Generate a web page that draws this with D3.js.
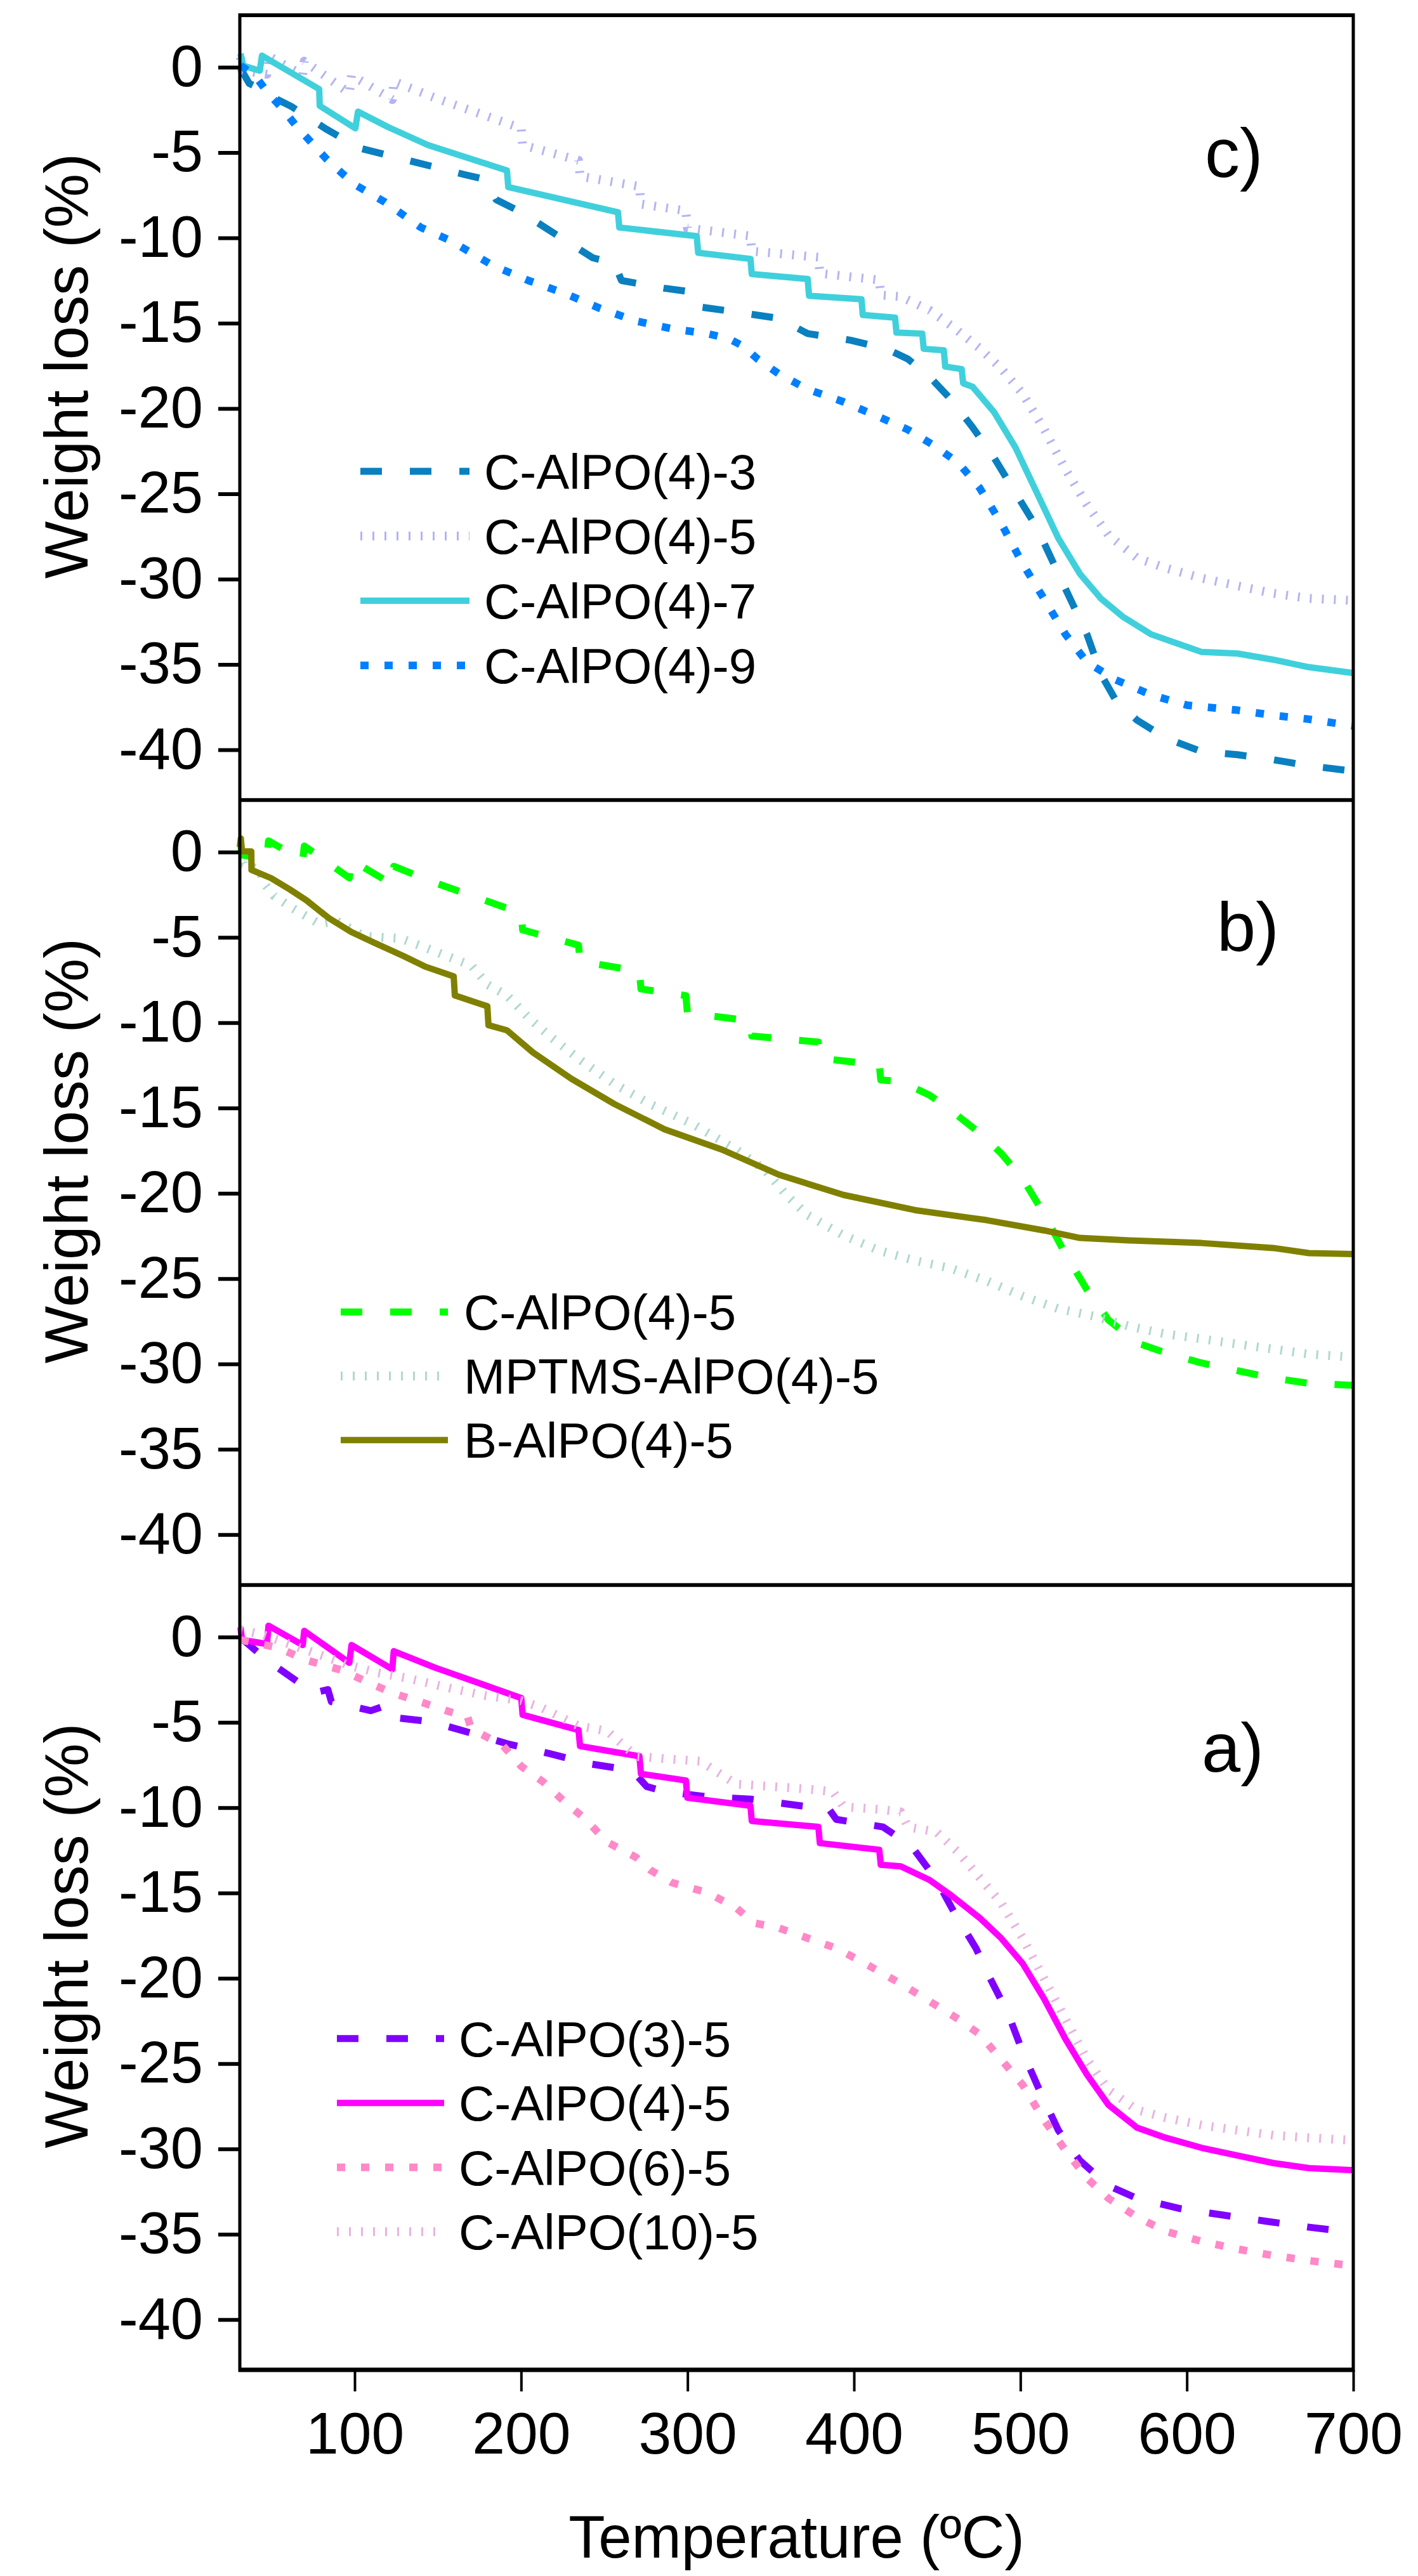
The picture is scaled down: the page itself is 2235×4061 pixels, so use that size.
<!DOCTYPE html>
<html>
<head>
<meta charset="utf-8">
<script src="https://cdn.jsdelivr.net/npm/d3@7"></script>
<style>
  body { margin: 0; background: #fff; }
  text { font-family: 'Liberation Sans', Arial, sans-serif; fill: #000; }
</style>
</head>
<body>
<div id="chart"></div>
<script>
// ---- data (temperature in ºC, weight loss in %) ----
const xTicks = [100, 200, 300, 400, 500, 600, 700]
const yTicks = [0, -5, -10, -15, -20, -25, -30, -35, -40]
const xDomain = [31, 700]
const yDomain = [-42.95, 3.05]

// C-AlPO(4)-5 appears in all three panels
const c_AlPO4_5 = [[31.4,0.57],[32.3,-0.17],[47.3,-0.41],[48.2,0.66],[68.8,-0.47],[69.7,0.36],[96.8,-1.51],[98.1,-0.47],
  [122.6,-1.89],[123.5,-0.83],[148.4,-1.8],[174.3,-2.69],[200.1,-3.58],[200.9,-4.56],[234.5,-5.45],[235.4,-6.39],
  [271.1,-6.99],[272,-8.02],[299,-8.41],[299.9,-9.42],[337.8,-9.89],[338.6,-10.78],[378.6,-11.13],[379.5,-12.08],
  [415.2,-12.47],[416.1,-13.35],[428.1,-13.44],[445.4,-14.24],[458.2,-15.13],[475.5,-16.46],[488.4,-17.65],
  [501.3,-19.13],[514.2,-21.2],[527.1,-23.57],[540,-25.65],[552.9,-27.42],[570.1,-28.76],[587.3,-29.35],
  [608.9,-29.94],[630.4,-30.39],[651.9,-30.83],[673.4,-31.13],[700,-31.25]]

// panel c)
const c_AlPO4_3 = [[31.4,-0.06],[36.6,-0.95],[41.6,-1.18],[49.5,-1.69],[62,-2.3],[82.5,-3.6],[102.7,-4.73],
  [135.5,-5.54],[165.6,-6.28],[178.6,-6.58],[185,-7.76],[200.1,-8.5],[221.6,-9.84],[243.1,-11.17],[256,-11.47],
  [260.3,-12.5],[286.1,-12.95],[303.4,-13.18],[306.8,-14.04],[329.2,-14.34],[355,-14.72],[372.2,-15.61],
  [398,-16],[419.5,-16.5],[432.4,-17.1],[445.4,-18.13],[458.2,-19.46],[471.2,-21.09],[484.1,-22.87],
  [497,-24.94],[510.1,-27.02],[522.8,-29.68],[531.4,-31.46],[540,-33.24],[548.6,-35.61],[557.2,-37.09],
  [570.1,-38.27],[587.3,-39.31],[608.9,-40.11],[630.4,-40.29],[651.9,-40.58],[673.4,-40.94],[700,-41.25]]
const c_AlPO4_7 = [[31.4,0.8],[33.1,0.09],[43,-0.2],[44.3,0.68],[78.7,-1.28],[79,-2.26],[100.4,-3.58],[102,-2.6],
  [120,-3.5],[144.1,-4.56],[191.5,-6.05],[192.3,-7.02],[258.2,-8.5],[259,-9.39],[305.5,-9.9],[306.4,-10.87],
  [337.8,-11.23],[338.6,-12.12],[372.2,-12.41],[373,-13.39],[404.5,-13.6],[405.3,-14.52],[424.7,-14.67],
  [425.5,-15.55],[441,-15.61],[441.9,-16.5],[454,-16.59],[454.8,-17.54],[464.7,-17.69],[465.6,-18.52],
  [471.2,-18.72],[484.1,-20.2],[497,-22.28],[509.9,-24.94],[522.8,-27.61],[535.7,-29.68],[548.6,-31.16],
  [561.5,-32.2],[578.7,-33.24],[608.9,-34.27],[630.4,-34.36],[651.9,-34.72],[673.4,-35.16],[700,-35.5]]
const c_AlPO4_9 = [[31.4,0.1],[40,-0.47],[48,-1.53],[57,-2.46],[65,-3.46],[73.7,-4.38],[83,-5.37],[92.6,-6.23],
  [101,-6.93],[118.3,-7.91],[139.8,-9.39],[157,-10.13],[182.9,-11.61],[204.4,-12.5],[225.9,-13.24],
  [247.4,-14.13],[268.9,-14.87],[290.4,-15.32],[311.9,-15.61],[324.9,-15.91],[333.5,-16.35],[342.1,-17.1],
  [355,-17.98],[372.2,-18.87],[393.7,-19.61],[415.2,-20.5],[432.4,-21.24],[447.5,-22.13],[462.6,-23.17],
  [475.5,-24.65],[488.4,-26.72],[501.3,-29.09],[514.2,-31.16],[527.1,-33.24],[540,-34.87],[557.2,-35.9],
  [578.7,-36.79],[600.2,-37.39],[630.4,-37.68],[651.9,-37.98],[673.4,-38.21],[700,-38.6]]

// panel b)
const mptms_AlPO4_5 = [[31.4,0.1],[33,-0.67],[42.8,-1.04],[45.5,-1.82],[51.6,-2.57],[61.1,-3.19],[78.6,-4.2],
  [89.3,-4.05],[105.7,-4.94],[127.5,-5.05],[140.8,-5.53],[154.5,-6.06],[170.2,-6.65],[179.7,-7.76],
  [191.5,-8.4],[205.2,-9.77],[216.6,-10.74],[236.1,-12.22],[256,-13.58],[277.5,-14.76],[303.4,-15.95],
  [329.2,-17.43],[346.4,-18.61],[359.3,-20.09],[372.2,-21.28],[393.7,-22.46],[415.2,-23.35],[436.7,-23.94],
  [458.2,-24.39],[479.8,-25.13],[501.3,-26.02],[522.8,-26.76],[544.3,-27.2],[565.8,-27.8],[587.3,-28.24],
  [608.9,-28.53],[630.4,-28.83],[651.9,-29.13],[673.4,-29.42],[700,-29.6]]
const b_AlPO4_5 = [[31,0.3],[31.6,0.8],[32.3,0.05],[37.9,0.04],[38,-1.04],[49.7,-1.52],[61.1,-2.19],[71,-2.82],
  [84.4,-3.86],[98,-4.68],[111.8,-5.31],[129.4,-6.09],[142.7,-6.72],[159.5,-7.28],[160.2,-8.4],[179.7,-9.03],
  [180.4,-10.14],[191.5,-10.44],[207.1,-11.74],[230.2,-13.28],[256,-14.76],[286.1,-16.24],[320.6,-17.43],
  [355,-18.91],[393.7,-20.09],[436.7,-20.98],[479.8,-21.57],[514.2,-22.17],[535.7,-22.61],[565.8,-22.76],
  [608.9,-22.91],[651.9,-23.2],[673.4,-23.5],[700,-23.56]]

// panel a)
const c_AlPO3_5 = [[31.4,-0.03],[47.3,-1.36],[75.3,-3.28],[83.9,-3.08],[86,-3.79],[109.7,-4.32],[118.3,-4.03],
  [120.5,-4.68],[146.3,-4.97],[167.8,-5.57],[191.5,-6.25],[217.3,-6.84],[241,-7.43],[266.8,-7.82],
  [275.4,-8.76],[286.1,-9.06],[312,-9.36],[337.8,-9.5],[367.9,-9.89],[385.1,-10.1],[389.4,-10.69],
  [417.4,-11.13],[434.6,-12.26],[449.6,-14.24],[460.4,-16.17],[473.3,-18.24],[481.9,-20.02],[492.7,-22.09],
  [501.3,-24.31],[512,-26.68],[522.8,-28.91],[535.7,-30.68],[552.9,-32.16],[570.1,-32.9],[596,-33.5],
  [621.8,-33.88],[647.6,-34.24],[673.4,-34.59],[700,-34.9]]
const c_AlPO6_5 = [[31.4,-0.17],[53.8,-0.62],[71,-1.36],[92.5,-1.95],[105.4,-2.54],[122.6,-3.28],[142,-3.88],
  [157,-4.38],[167.8,-4.68],[170,-5.36],[189.3,-6.39],[200.1,-7.58],[213,-8.47],[226,-9.65],[238.8,-10.69],
  [251.7,-12.02],[269,-12.91],[277.5,-13.65],[290.4,-14.39],[311.9,-14.98],[329.2,-15.87],[340,-16.76],
  [355,-17.06],[372.2,-17.65],[389.4,-18.24],[406.6,-19.13],[428.1,-20.32],[445.4,-21.35],[462.6,-22.39],
  [475.5,-23.28],[488.4,-24.76],[501.3,-26.24],[514.2,-28.31],[527.1,-30.09],[540,-31.72],[552.9,-32.9],
  [570.1,-34],[587.3,-34.83],[608.9,-35.42],[630.4,-35.87],[651.9,-36.25],[673.4,-36.55],[700,-36.85]]
const c_AlPO10_5 = [[31.4,0.42],[45.2,0.12],[62.4,-0.47],[79.6,-1.06],[96.8,-1.66],[114,-2.1],[131.2,-2.4],
  [157,-2.99],[178.6,-3.43],[200.1,-3.73],[213,-4.17],[234.5,-5.21],[251.7,-5.51],[269,-6.99],[286.1,-7.13],
  [307.6,-7.28],[329.2,-8.62],[350.7,-8.76],[372.2,-8.91],[387.3,-9.06],[393.7,-9.95],[415.2,-10.1],
  [428.1,-10.25],[432.4,-11.13],[449.6,-11.43],[462.6,-12.61],[475.5,-14.1],[488.4,-15.58],[501.3,-17.65],
  [514.2,-20.02],[527.1,-22.39],[540,-24.76],[552.9,-26.54],[570.1,-27.72],[587.3,-28.17],[608.9,-28.61],
  [630.4,-28.91],[651.9,-29.2],[673.4,-29.35],[700,-29.5]]

// ---- styles ----
const styles = {
  dash: { dash: '34 44', width: 11 },
  dot: { dash: '13 25', width: 12 },
  solid: { dash: null, width: 10 },
  short: { dash: '3 16', width: 14 },
}

const panels = [
  {
    label: 'c)', labelPos: [1899, 255],
    legend: { x1: 568, x2: 740, tx: 763, y0: 719, dy: 102 },
    series: [
      { name: 'C-AlPO(4)-3', data: c_AlPO4_3, color: '#0a80c0', style: 'dash' },
      { name: 'C-AlPO(4)-5', data: c_AlPO4_5, color: '#b4b4f4', style: 'short' },
      { name: 'C-AlPO(4)-7', data: c_AlPO4_7, color: '#40d0dc', style: 'solid' },
      { name: 'C-AlPO(4)-9', data: c_AlPO4_9, color: '#0080ff', style: 'dot' },
    ],
  },
  {
    label: 'b)', labelPos: [1918, 238],
    legend: { x1: 537, x2: 706, tx: 731, y0: 807, dy: 101 },
    series: [
      { name: 'C-AlPO(4)-5', data: c_AlPO4_5, color: '#00ff00', style: 'dash' },
      { name: 'MPTMS-AlPO(4)-5', data: mptms_AlPO4_5, color: '#b0d8d0', style: 'short' },
      { name: 'B-AlPO(4)-5', data: b_AlPO4_5, color: '#808000', style: 'solid' },
    ],
  },
  {
    label: 'a)', labelPos: [1894, 294],
    legend: { x1: 531, x2: 700, tx: 723, y0: 715, dy: 101.5 },
    series: [
      { name: 'C-AlPO(3)-5', data: c_AlPO3_5, color: '#8000ff', style: 'dash' },
      { name: 'C-AlPO(4)-5', data: c_AlPO4_5, color: '#ff00ff', style: 'solid' },
      { name: 'C-AlPO(6)-5', data: c_AlPO6_5, color: '#ff88c8', style: 'dot' },
      { name: 'C-AlPO(10)-5', data: c_AlPO10_5, color: '#e8b4e0', style: 'short' },
    ],
  },
]

// ---- layout ----
const svgW = 2235
const svgH = 4061
const plotLeft = 378
const plotRight = 2133
const plotTop = 24
const plotBottom = 3736
const panelH = (plotBottom - plotTop) / panels.length

const svg = d3
  .select('#chart')
  .append('svg')
  .attr('width', svgW)
  .attr('height', svgH)

const x = d3.scaleLinear().domain(xDomain).range([plotLeft, plotRight])

panels.forEach((p, i) => {
  const pTop = plotTop + i * panelH
  const y = d3.scaleLinear().domain(yDomain).range([pTop + panelH, pTop])
  const g = svg.append('g')

  // curves
  p.series.forEach((s) => {
    const st = styles[s.style]
    const line = d3
      .line()
      .x((d) => x(d[0]))
      .y((d) => y(d[1]))
    g.append('path')
      .datum(s.data)
      .attr('d', line)
      .attr('fill', 'none')
      .attr('stroke', s.color)
      .attr('stroke-width', st.width)
      .attr('stroke-dasharray', st.dash)
      .attr('stroke-linejoin', 'round')
  })

  // y axis
  g.append('g')
    .attr('transform', `translate(${plotLeft}, 0)`)
    .call(
      d3
        .axisLeft(y)
        .tickValues(yTicks)
        .tickFormat((d) => String(d))
        .tickSize(34)
        .tickPadding(24)
    )
    .call((a) => a.select('.domain').remove())
    .call((a) => a.selectAll('.tick line').attr('stroke', '#000').attr('stroke-width', 6))
    .call((a) =>
      a
        .selectAll('.tick text')
        .attr('fill', '#000')
        .style('font-size', '92px')
        .style('font-family', "'Liberation Sans', Arial, sans-serif")
    )

  // y label
  g.append('text')
    .attr('transform', `translate(138, ${pTop + 553}) rotate(-90)`)
    .attr('text-anchor', 'middle')
    .style('font-size', '96px')
    .text('Weight loss (%)')

  // panel label
  g.append('text')
    .attr('x', p.labelPos[0])
    .attr('y', pTop + p.labelPos[1])
    .style('font-size', '110px')
    .text(p.label)

  // legend
  const lg = p.legend
  p.series.forEach((s, k) => {
    const st = styles[s.style]
    const ly = pTop + lg.y0 + k * lg.dy
    g.append('line')
      .attr('x1', lg.x1)
      .attr('x2', lg.x2)
      .attr('y1', ly)
      .attr('y2', ly)
      .attr('stroke', s.color)
      .attr('stroke-width', st.width)
      .attr('stroke-dasharray', st.dash)
    g.append('text')
      .attr('x', lg.tx)
      .attr('y', ly + 28)
      .style('font-size', '78px')
      .text(s.name)
  })

  // panel separator / top border
  svg
    .append('line')
    .attr('x1', plotLeft)
    .attr('x2', plotRight)
    .attr('y1', pTop)
    .attr('y2', pTop)
    .attr('stroke', '#000')
    .attr('stroke-width', 6)
})

// frame sides
svg.append('line').attr('x1', plotLeft).attr('x2', plotLeft).attr('y1', plotTop - 3).attr('y2', plotBottom + 3)
  .attr('stroke', '#000').attr('stroke-width', 5)
svg.append('line').attr('x1', plotRight).attr('x2', plotRight).attr('y1', plotTop - 3).attr('y2', plotBottom + 3)
  .attr('stroke', '#000').attr('stroke-width', 5)

// x axis at the bottom
svg
  .append('g')
  .attr('transform', `translate(0, ${plotBottom})`)
  .call(d3.axisBottom(x).tickValues(xTicks).tickSize(34).tickPadding(32))
  .call((a) => a.select('.domain').remove())
  .call((a) => a.selectAll('.tick line').attr('stroke', '#000').attr('stroke-width', 4))
  .call((a) =>
    a
      .selectAll('.tick text')
      .attr('fill', '#000')
      .style('font-size', '93px')
      .style('font-family', "'Liberation Sans', Arial, sans-serif")
  )

svg.append('line').attr('x1', plotLeft - 2).attr('x2', plotRight + 2).attr('y1', plotBottom).attr('y2', plotBottom)
  .attr('stroke', '#000').attr('stroke-width', 7)

svg
  .append('text')
  .attr('x', (plotLeft + plotRight) / 2)
  .attr('y', 4032)
  .attr('text-anchor', 'middle')
  .style('font-size', '94px')
  .text('Temperature (ºC)')
</script>
</body>
</html>
